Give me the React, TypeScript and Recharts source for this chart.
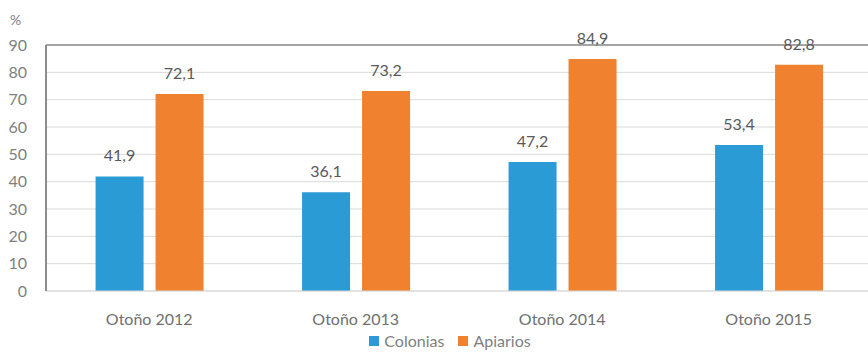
import React from 'react';
import { BarChart, Bar, XAxis, YAxis, CartesianGrid, LabelList, ReferenceLine, Legend } from 'recharts';

const categories = ['Otoño 2012', 'Otoño 2013', 'Otoño 2014', 'Otoño 2015'];
const colonias = [41.9, 36.1, 47.2, 53.4];
const apiarios = [72.1, 73.2, 84.9, 82.8];
const yTicks = [0, 10, 20, 30, 40, 50, 60, 70, 80, 90];

const data = categories.map((c, i) => ({ name: c, Colonias: colonias[i], Apiarios: apiarios[i] }));

const BLUE = '#2b9bd5';
const ORANGE = '#f0812f';
const FONT = 'Lato, "Open Sans", sans-serif';

const fmt = (v: any) => String(v).replace('.', ',');

const LegendContent = () => (
  <div style={{ display: 'flex', justifyContent: 'center', fontFamily: FONT, fontSize: 16, color: '#7f7f7f', paddingLeft: 28 }}>
    {[['Colonias', BLUE], ['Apiarios', ORANGE]].map(([n, c]) => (
      <span key={n} style={{ display: 'inline-flex', alignItems: 'center', margin: '0 7px' }}>
        <span style={{ width: 10, height: 10, background: c, display: 'inline-block', marginRight: 5 }} />
        {n}
      </span>
    ))}
  </div>
);

export default function App() {
  return (
    <div style={{ position: 'absolute', left: 0, top: 0, width: 868, height: 353, background: '#fff' }}>
      <div style={{ position: 'absolute', left: 10, top: 11, fontFamily: FONT, fontSize: 14, color: '#7f7f7f' }}>%</div>
      <BarChart width={868} height={353} data={data} margin={{ top: 45, right: -4, bottom: 0, left: 0 }} barGap={12} barCategoryGap="24%">
        <CartesianGrid vertical={false} stroke="#d9d9d9" />
        <XAxis dataKey="name" height={40} axisLine={{ stroke: '#d9d9d9' }} tickLine={false} tickMargin={17}
          tick={{ fontFamily: FONT, fontSize: 16, fill: '#707070' }} />
        <YAxis width={46} domain={[0, 90]} ticks={yTicks} interval={0} axisLine={{ stroke: '#8c8c8c', strokeWidth: 2 }} tickLine={false}
          tickMargin={13} tick={{ fontFamily: FONT, fontSize: 16, fill: '#7f7f7f' }} />
        <ReferenceLine y={90} stroke="#8c8c8c" strokeWidth={1.5} />
        <Legend verticalAlign="bottom" height={22} content={<LegendContent />} />
        <Bar dataKey="Colonias" fill={BLUE} isAnimationActive={false}>
          <LabelList dataKey="Colonias" position="top" offset={15} formatter={fmt} style={{ fontFamily: FONT, fontSize: 16, fill: '#595959' }} />
        </Bar>
        <Bar dataKey="Apiarios" fill={ORANGE} isAnimationActive={false}>
          <LabelList dataKey="Apiarios" position="top" offset={15} formatter={fmt} style={{ fontFamily: FONT, fontSize: 16, fill: '#595959' }} />
        </Bar>
      </BarChart>
    </div>
  );
}
